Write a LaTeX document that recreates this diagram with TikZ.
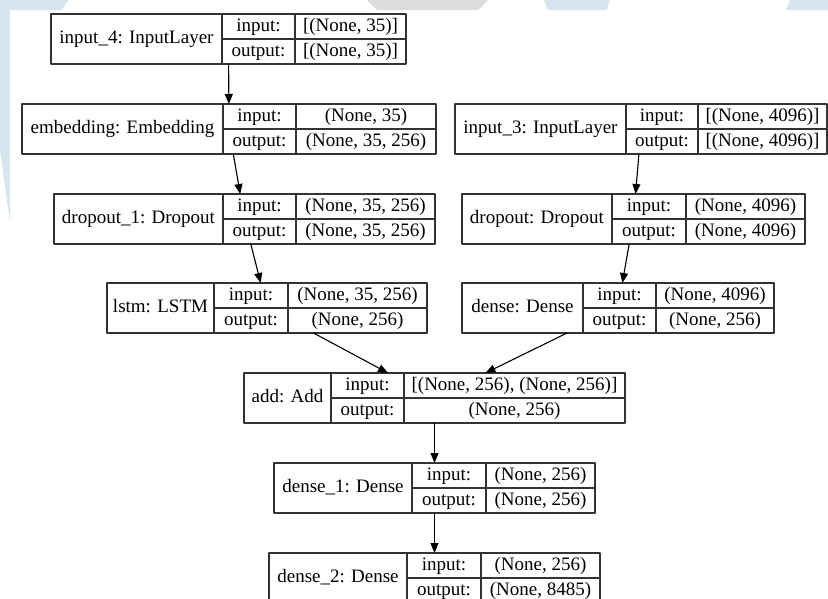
\documentclass[tikz,border=0pt]{standalone}
\usepackage{fontspec}
\setmainfont{Liberation Serif}
\usetikzlibrary{arrows.meta}
\definecolor{wmblue}{RGB}{214,229,238}
\definecolor{wmgray}{RGB}{220,220,220}
\tikzset{
  layerbox/.style={draw=black!80, line width=1.1pt, inner sep=0pt, outer sep=0pt, minimum height=50pt},
  cellline/.style={draw=black!80, line width=1.1pt},
  celltext/.style={inner sep=0pt, text height=13pt, text depth=4pt, font=\fontsize{19}{23}\selectfont},
  edge/.style={->, black, line width=1.1pt}
}
% \layer{name}{left}{top}{divider 1}{divider 2}{right}{label}{input}{output}
\newcommand{\layer}[9]{
  \node[layerbox, minimum width={(#6-#2)*1pt}] (#1) at ({(#2+#6)/2},#3+25) {};
  \draw[cellline] (#4,#3) -- (#4,#3+50) (#5,#3) -- (#5,#3+50) (#4,#3+25) -- (#6,#3+25);
  \node[celltext] (#1-lab) at ({(#2+#4)/2},#3+25) {#7};
  \node[celltext] (#1-in) at ({(#4+#5)/2},#3+12.5) {input:};
  \node[celltext] (#1-out) at ({(#4+#5)/2},#3+37.5) {output:};
  \node[celltext] (#1-inv) at ({(#5+#6)/2},#3+12.5) {#8};
  \node[celltext] (#1-outv) at ({(#5+#6)/2},#3+37.5) {#9};
}

\begin{document}
\begin{tikzpicture}[line cap=round,line join=round,>={Triangle[length=10pt,width=8pt]},x=1pt,y=-1pt]
    \useasboundingbox (0,0) rectangle (828,598);
    \clip (0,0) rectangle (828,598);

    % Watermark behind the diagram
    \fill[wmblue] (0,0) -- (68,0) -- (62,10) -- (10,10) -- (10,222) -- (0,150) -- cycle;
    \fill[wmgray] (367,0) -- (488,0) -- (478,10) -- (377,10) -- cycle;
    \fill[wmblue] (544,0) -- (610,0) -- (607,10) -- (548,10) -- cycle;
    \fill[wmblue] (790,0) -- (828,0) -- (828,10) -- (786,10) -- cycle;

    % Layers
    \layer{inp4}{51}{14}{222}{295}{406}{input\_4: InputLayer}{[(None, 35)]}{[(None, 35)]}
    \layer{emb}{22}{104}{223}{296}{436}{embedding: Embedding}{(None, 35)}{(None, 35, 256)}
    \layer{inp3}{455}{104}{626}{698}{827}{input\_3: InputLayer}{[(None, 4096)]}{[(None, 4096)]}
    \layer{drop1}{54}{194}{223}{296}{435}{dropout\_1: Dropout}{(None, 35, 256)}{(None, 35, 256)}
    \layer{drop}{462}{194}{612}{686}{805}{dropout: Dropout}{(None, 4096)}{(None, 4096)}
    \layer{lstm}{107}{283}{214}{288}{427}{lstm: LSTM}{(None, 35, 256)}{(None, 256)}
    \layer{dense}{462}{283}{583}{656}{774}{dense: Dense}{(None, 4096)}{(None, 256)}
    \layer{add}{244}{373}{331}{404}{625}{add: Add}{[(None, 256), (None, 256)]}{(None, 256)}
    \layer{dense1}{274}{463}{412}{486}{595}{dense\_1: Dense}{(None, 256)}{(None, 256)}
    \layer{dense2}{269}{553}{407}{481}{600}{dense\_2: Dense}{(None, 256)}{(None, 8485)}

    % Edges
    \foreach \source/\target in {inp4/emb, emb/drop1, drop1/lstm, lstm/add, inp3/drop, drop/dense, dense/add, add/dense1, dense1/dense2} {
            \draw[edge] (\source) -- (\target);
        }
\end{tikzpicture}
\end{document}
